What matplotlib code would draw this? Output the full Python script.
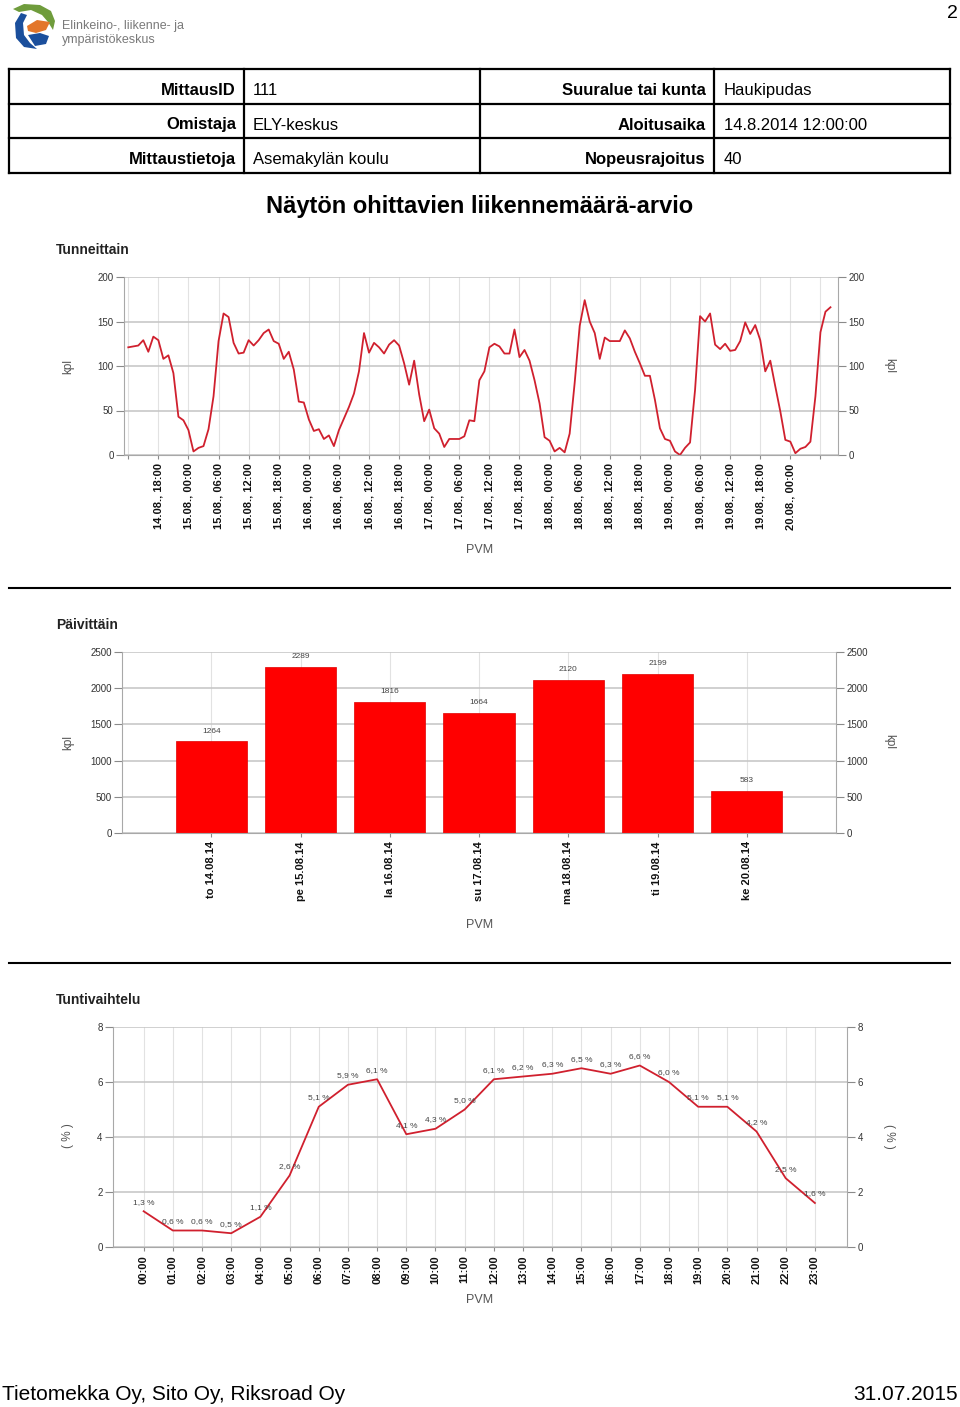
import matplotlib
matplotlib.use("Agg")
import matplotlib.pyplot as plt
from matplotlib.patches import Polygon

plt.rcParams['font.family'] = ['Liberation Sans', 'DejaVu Sans']

# ---------------- data ----------------
info_labels_left = ["MittausID", "Omistaja", "Mittaustietoja"]
info_values_left = ["111", "ELY-keskus", "Asemakylän koulu"]
info_labels_right = ["Suuralue tai kunta", "Aloitusaika", "Nopeusrajoitus"]
info_values_right = ["Haukipudas", "14.8.2014 12:00:00", "40"]

page_title = "Näytön ohittavien liikennemäärä-arvio"

# hourly counts starting 14.08.2014 12:00
hourly_counts = [
    121, 122, 123, 129, 116, 133, 129, 108, 112, 92,
    43, 39, 28, 4, 8, 10, 29, 66, 128, 159,
    155, 126, 114, 115, 129, 123, 129, 137, 141, 128,
    125, 108, 116, 96, 60, 59, 40, 27, 29, 18,
    22, 10, 28, 41, 54, 69, 94, 137, 115, 126,
    121, 114, 124, 129, 123, 103, 79, 106, 68, 38,
    51, 30, 24, 9, 18, 18, 18, 21, 39, 38,
    84, 94, 121, 125, 122, 114, 114, 141, 110, 118,
    106, 84, 58, 20, 16, 4, 8, 3, 24, 81,
    145, 174, 150, 137, 108, 132, 128, 128, 128, 140,
    131, 116, 103, 89, 89, 62, 30, 18, 16, 4,
    0, 8, 14, 73, 156, 150, 159, 124, 119, 125,
    117, 118, 128, 149, 136, 146, 129, 94, 106, 77,
    49, 17, 15, 2, 7, 9, 15, 66, 138, 161, 166,
]
hourly_tick_labels = [
    "14.08., 18:00",
    "15.08., 00:00", "15.08., 06:00", "15.08., 12:00", "15.08., 18:00",
    "16.08., 00:00", "16.08., 06:00", "16.08., 12:00", "16.08., 18:00",
    "17.08., 00:00", "17.08., 06:00", "17.08., 12:00", "17.08., 18:00",
    "18.08., 00:00", "18.08., 06:00", "18.08., 12:00", "18.08., 18:00",
    "19.08., 00:00", "19.08., 06:00", "19.08., 12:00", "19.08., 18:00",
    "20.08., 00:00",
]

daily_labels = ["to 14.08.14", "pe 15.08.14", "la 16.08.14", "su 17.08.14",
                "ma 18.08.14", "ti 19.08.14", "ke 20.08.14"]
daily_counts = [1264, 2289, 1816, 1664, 2120, 2199, 583]

hour_labels = ["00:00", "01:00", "02:00", "03:00", "04:00", "05:00", "06:00",
               "07:00", "08:00", "09:00", "10:00", "11:00", "12:00", "13:00",
               "14:00", "15:00", "16:00", "17:00", "18:00", "19:00", "20:00",
               "21:00", "22:00", "23:00"]
hour_share = [1.3, 0.6, 0.6, 0.5, 1.1, 2.6, 5.1, 5.9, 6.1, 4.1, 4.3, 5.0,
              6.1, 6.2, 6.3, 6.5, 6.3, 6.6, 6.0, 5.1, 5.1, 4.2, 2.5, 1.6]

footer_left = "Tietomekka Oy, Sito Oy, Riksroad Oy"
footer_right = "31.07.2015"
page_number = "2"

# ---------------- figure ----------------
W, H = 960, 1407
fig = plt.figure(figsize=(W / 100, H / 100), dpi=100)
fig.patch.set_facecolor("white")

bg = fig.add_axes([0, 0, 1, 1], zorder=0)
bg.set_xlim(0, W)
bg.set_ylim(H, 0)
bg.axis("off")


def ax_rect(left, top, right, bottom):
    return [left / W, 1 - bottom / H, (right - left) / W, (bottom - top) / H]


# logo (simplified)
bg.add_patch(Polygon([(13, 9), (24, 4), (40, 5), (51, 11), (55, 21), (53, 30),
                      (48, 22), (42, 15), (31, 10), (19, 12)], closed=True,
                     color="#6f9c3c", lw=0))
bg.add_patch(Polygon([(21, 13), (15, 23), (16, 38), (24, 47), (37, 49),
                      (30, 43), (24, 35), (23, 23), (27, 15)], closed=True,
                     color="#1b4f9c", lw=0))
bg.add_patch(Polygon([(27, 26), (37, 20), (50, 22), (46, 30), (36, 33), (28, 31)],
                     closed=True, color="#e3762a", lw=0))
bg.add_patch(Polygon([(28, 35), (40, 33), (49, 36), (46, 44), (35, 46)],
                     closed=True, color="#1b4f9c", lw=0))
bg.text(62, 26, "Elinkeino-, liikenne- ja", fontsize=9, color="#7a7a7a",
        va="center", ha="left")
bg.text(62, 40, "ympäristökeskus", fontsize=9, color="#7a7a7a",
        va="center", ha="left")
bg.text(958, 14, page_number, fontsize=14, ha="right", va="center")

# info table
tl, tr, ttop, tbot = 9, 950, 69, 173
rows_y = [69, 104, 138, 173]
for y in rows_y:
    bg.plot([tl, tr], [y, y], color="black", lw=1.6, solid_capstyle="projecting")
for x in [tl, 244, 480, 714, tr]:
    bg.plot([x, x], [ttop, tbot], color="black", lw=1.6)
for i in range(3):
    yc = (rows_y[i] + rows_y[i + 1]) / 2 + 4
    bg.text(236, yc, info_labels_left[i], fontsize=12, fontweight="bold",
            ha="right", va="center")
    bg.text(253, yc, info_values_left[i], fontsize=12, ha="left", va="center")
    bg.text(706, yc, info_labels_right[i], fontsize=12, fontweight="bold",
            ha="right", va="center")
    bg.text(724, yc, info_values_right[i], fontsize=12, ha="left", va="center")

bg.text(480, 207, page_title, fontsize=17, fontweight="bold", ha="center",
        va="center")

# separators
for y in [588, 963]:
    bg.plot([9, 950], [y, y], color="black", lw=1.5)

bg.text(2, 1395, footer_left, fontsize=15, ha="left", va="center")
bg.text(958, 1395, footer_right, fontsize=15, ha="right", va="center")

GRID_H = "#c4c4c4"
GRID_V = "#e2e2e2"
TICK_C = "#8a8a8a"
LAB_C = "#333333"
LINE_C = "#d0202e"


def style_axes(ax):
    ax.set_facecolor("none")
    ax.spines["top"].set_visible(False)
    for s in ["left", "right", "bottom"]:
        ax.spines[s].set_color("#a8a8a8")
        ax.spines[s].set_linewidth(0.8)
    ax.tick_params(axis="y", left=True, right=True, labelleft=True,
                   labelright=True, length=6, width=0.8, color=TICK_C,
                   labelsize=7, labelcolor=LAB_C, pad=1.5)
    ax.tick_params(axis="x", length=3, width=0.8, color=TICK_C, labelsize=8,
                   labelcolor="#111111", pad=3)
    ax.set_axisbelow(True)


def side_labels(yc, text):
    bg.text(68, yc, text, rotation=90, fontsize=8.5, color="#555555",
            ha="center", va="center")
    bg.text(889, yc, text, rotation=270, fontsize=8.5, color="#555555",
            ha="center", va="center")


# ---------------- chart 1: hourly ----------------
bg.text(56, 250, "Tunneittain", fontsize=10, fontweight="bold", ha="left",
        va="center", color="#222222")
ax1 = fig.add_axes(ax_rect(124, 277, 838, 455), zorder=2)
style_axes(ax1)
hours = list(range(len(hourly_counts)))
ax1.plot(hours, hourly_counts, color=LINE_C, lw=1.3)
ax1.set_xlim(-0.85, 141.5)
ax1.set_ylim(0, 200)
ax1.set_yticks([0, 50, 100, 150, 200])
xt = list(range(0, 139, 6))
ax1.set_xticks(xt)
ax1.set_xticklabels([""] + hourly_tick_labels + [""], rotation=90,
                    fontweight="bold", va="top")
ax1.yaxis.grid(True, color=GRID_H, lw=1.1)
ax1.xaxis.grid(True, color=GRID_V, lw=0.8)
side_labels(366, "kpl")
bg.text(480, 550, "PVM", fontsize=9, color="#555555", ha="center", va="center")

# ---------------- chart 2: daily ----------------
bg.text(56, 625, "Päivittäin", fontsize=10, fontweight="bold", ha="left",
        va="center", color="#222222")
ax2 = fig.add_axes(ax_rect(122, 652, 836, 833), zorder=2)
style_axes(ax2)
pos = list(range(len(daily_counts)))
ax2.bar(pos, daily_counts, width=0.8, color="#ff0000",
        edgecolor="#e00000", lw=0.5, zorder=2)
for p, v in zip(pos, daily_counts):
    ax2.annotate(str(v), (p, v), xytext=(0, 5), textcoords="offset points",
                 ha="center", va="bottom", fontsize=6, color="#444444")
ax2.set_xlim(-1, 7)
ax2.set_ylim(0, 2500)
ax2.set_yticks([0, 500, 1000, 1500, 2000, 2500])
ax2.set_xticks(pos)
ax2.set_xticklabels(daily_labels, rotation=90, fontweight="bold", va="top")
ax2.yaxis.grid(True, color=GRID_H, lw=1.1, zorder=0)
ax2.xaxis.grid(True, color=GRID_V, lw=0.8, zorder=0)
side_labels(742, "kpl")
bg.text(480, 925, "PVM", fontsize=9, color="#555555", ha="center", va="center")

# ---------------- chart 3: hourly share ----------------
bg.text(56, 1000, "Tuntivaihtelu", fontsize=10, fontweight="bold", ha="left",
        va="center", color="#222222")
ax3 = fig.add_axes(ax_rect(113, 1027, 847, 1247), zorder=2)
style_axes(ax3)
hp = list(range(len(hour_share)))
ax3.plot(hp, hour_share, color=LINE_C, lw=1.3)
for p, v in zip(hp, hour_share):
    ax3.annotate(f"{v:.1f}".replace(".", ",") + " %", (p, v), xytext=(0, 4),
                 textcoords="offset points", ha="center", va="bottom",
                 fontsize=6, color="#444444")
ax3.set_xlim(-1.05, 24.1)
ax3.set_ylim(0, 8)
ax3.set_yticks([0, 2, 4, 6, 8])
ax3.set_xticks(hp)
ax3.set_xticklabels(hour_labels, rotation=90, fontweight="bold", va="top")
ax3.yaxis.grid(True, color=GRID_H, lw=1.1)
ax3.xaxis.grid(True, color=GRID_V, lw=0.8)
side_labels(1136, "( % )")
bg.text(480, 1300, "PVM", fontsize=9, color="#555555", ha="center", va="center")

fig.savefig("out.png", dpi=100, facecolor="white")
